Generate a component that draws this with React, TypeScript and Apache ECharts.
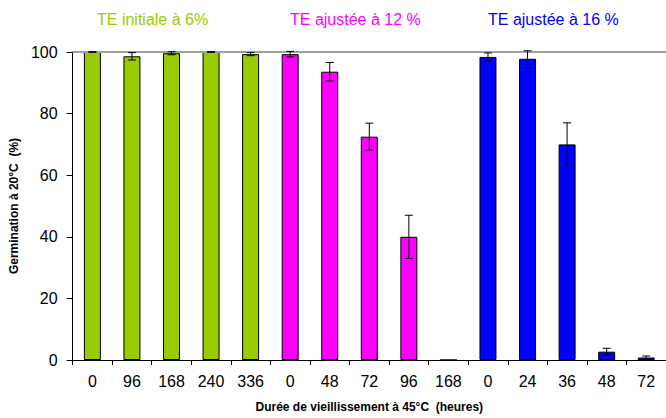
import React, { useEffect, useRef } from "react";
import * as echarts from "echarts";

const categories = ["0", "96", "168", "240", "336", "0", "48", "72", "96", "168", "0", "24", "36", "48", "72"];
const groupNames = ["TE initiale à 6%", "TE ajustée à 12 %", "TE ajustée à 16 %"];
const groupColors = ["#99cc00", "#ff00ff", "#0000ff"];
const greenValues = [100, 98.6, 99.6, 100, 99.3];
const greenErrors = [0.1, 1.2, 0.5, 0.1, 0.5];
const magentaValues = [99.3, 93.6, 72.5, 40, 0];
const magentaErrors = [0.9, 3.0, 4.4, 7.0, 0];
const blueValues = [98.4, 97.8, 70, 2.7, 0.8];
const blueErrors = [1.3, 3.0, 7.0, 1.1, 0.5];
const yTicks = [0, 20, 40, 60, 80, 100];

export default function App() {
  const ref = useRef<HTMLDivElement>(null);
  useEffect(() => {
    if (!ref.current) return;
    const chart = echarts.init(ref.current, undefined, { renderer: "svg" });
    const groups = [
      { values: greenValues, errors: greenErrors, offset: 0 },
      { values: magentaValues, errors: magentaErrors, offset: 5 },
      { values: blueValues, errors: blueErrors, offset: 10 },
    ];
    const barSeries = groups.map((g, gi) => {
      const data: (number | null)[] = categories.map(() => null);
      g.values.forEach((v, i) => (data[g.offset + i] = v));
      return {
        type: "bar",
        name: groupNames[gi],
        data,
        barWidth: 17,
        barGap: "-100%",
        itemStyle: { color: groupColors[gi], borderColor: "#000", borderWidth: 1 },
        z: 2,
      } as any;
    });
    const errData: number[][] = [];
    groups.forEach((g) => {
      g.values.forEach((v, i) => {
        if (g.errors[i] > 0) errData.push([g.offset + i, v - g.errors[i], v + g.errors[i]]);
      });
    });
    const errSeries = {
      type: "custom",
      data: errData,
      z: 5,
      renderItem: (params: any, api: any) => {
        const x = api.value(0);
        const lo = api.coord([x, api.value(1)]);
        const hi = api.coord([x, Math.min(api.value(2), 100.4)]);
        const hw = 4;
        const style = { stroke: "#000", lineWidth: 1 };
        return {
          type: "group",
          children: [
            { type: "line", shape: { x1: lo[0], y1: lo[1], x2: hi[0], y2: hi[1] }, style },
            { type: "line", shape: { x1: lo[0] - hw, y1: lo[1], x2: lo[0] + hw, y2: lo[1] }, style },
            { type: "line", shape: { x1: hi[0] - hw, y1: hi[1], x2: hi[0] + hw, y2: hi[1] }, style },
          ],
        };
      },
    } as any;
    const topLine = {
      type: "line",
      data: [],
      markLine: {
        silent: true,
        symbol: "none",
        label: { show: false },
        lineStyle: { color: "#a0a0a0", type: "solid", width: 2 },
        data: [{ yAxis: yTicks[yTicks.length - 1] }],
      },
      z: 1,
    } as any;
    chart.setOption({
      animation: false,
      grid: { left: 67, top: 52, width: 600, height: 312 },
      graphic: groupNames.map((n, i) => ({
        type: "text",
        left: [97, 290, 488][i],
        top: 11,
        style: { text: n, fill: groupColors[i], font: "16px 'Liberation Sans', Arial, sans-serif" },
      })),
      xAxis: {
        type: "category",
        data: categories,
        boundaryGap: true,
        axisLine: { lineStyle: { color: "#000", width: 1 } },
        axisTick: { show: true, length: 5, lineStyle: { color: "#000" }, alignWithLabel: false },
        axisLabel: { color: "#000", fontSize: 16, fontFamily: "Liberation Sans, Arial, sans-serif", margin: 13, interval: 0 },
        name: "Durée de vieillissement à 45°C  (heures)",
        nameLocation: "middle",
        nameGap: 41,
        nameTextStyle: { color: "#000", fontSize: 12, fontWeight: "bold", fontFamily: "Liberation Sans, Arial, sans-serif" },
      },
      yAxis: {
        type: "value",
        min: 0,
        max: 100,
        interval: 20,
        axisLine: { show: true, lineStyle: { color: "#000", width: 1 } },
        axisTick: { show: true, length: 6, inside: false, lineStyle: { color: "#000" } },
        splitLine: { show: false },
        axisLabel: { color: "#000", fontSize: 16, fontFamily: "Liberation Sans, Arial, sans-serif", margin: 15 },
        name: "Germination à 20°C  (%)",
        nameLocation: "middle",
        nameGap: 45,
        nameTextStyle: { color: "#000", fontSize: 12, fontWeight: "bold", fontFamily: "Liberation Sans, Arial, sans-serif" },
      },
      series: [topLine, ...barSeries, errSeries],
    });
    return () => chart.dispose();
  }, []);
  return <div ref={ref} style={{ width: 666, height: 418, position: "absolute", left: 0, top: 0 }} />;
}
